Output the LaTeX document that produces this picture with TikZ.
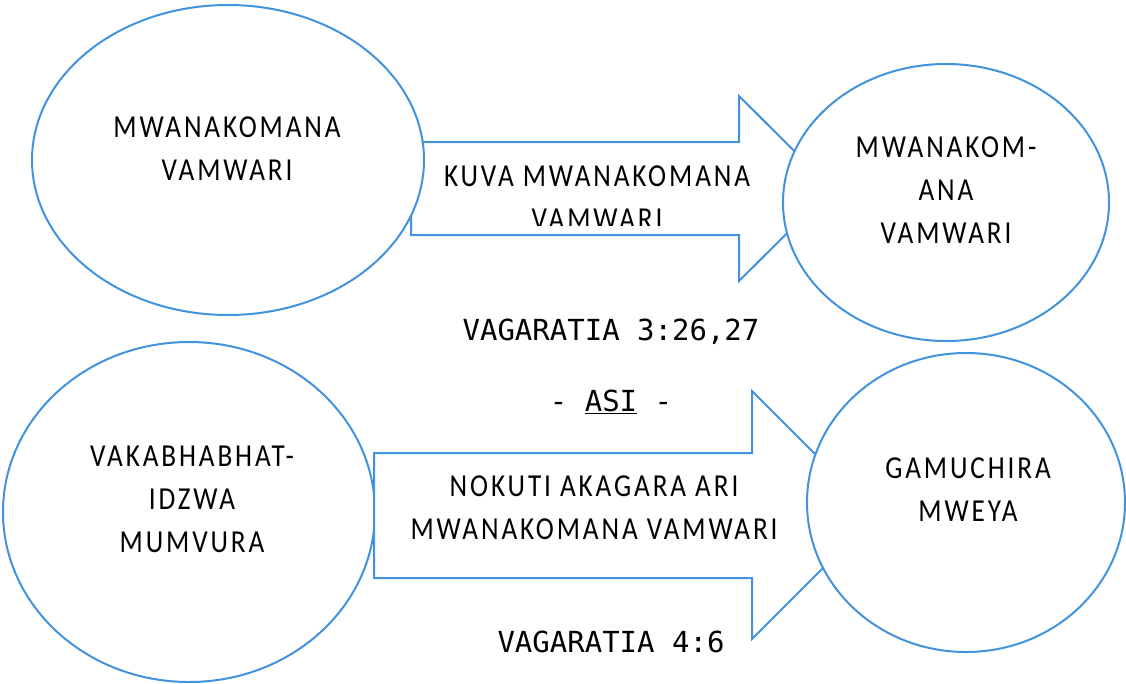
\documentclass[tikz,border=0pt]{standalone}
\usepackage{fontspec}
\setmainfont{Carlito}[FakeStretch=0.85,LetterSpace=9]
\setmonofont{DejaVu Sans Mono}
\usetikzlibrary{shapes.geometric}
\definecolor{lineblue}{RGB}{66,146,222}

\begin{document}
\begin{tikzpicture}[x=1pt,y=-1pt,
  outline/.style={draw=lineblue,line width=2pt,fill=white,line join=miter},
  bubble/.style={outline,ellipse,inner sep=0pt},
  caption/.style={font=\fontsize{32}{43}\selectfont,align=center,text=black,inner sep=0pt},
  ref/.style={font=\ttfamily\fontsize{29}{35}\selectfont,text=black,inner sep=0pt}]
\useasboundingbox (0,0) rectangle (1126,683);

% upper block arrow and its caption, cut off at the bottom
\draw[outline] (411,142) -- (739,142) -- (739,96) -- (832,188.5) -- (739,281)
  -- (739,235) -- (411,235) -- cycle;
\begin{scope}
  \clip (411,142) rectangle (832,225);
  \node[caption] (kuva) at (597,197.5) {KUVA MWANAKOMANA\\VAMWARI};
\end{scope}

% upper bubbles
\node[bubble,minimum width=392pt,minimum height=310pt] (e1) at (228,160) {};
\node[caption] (t1) at (227,148.5) {MWANAKOMANA\\VAMWARI};
\node[bubble,minimum width=326pt,minimum height=277pt] (e2) at (946,202.5) {};
\node[caption] (t2) at (946,190) {MWANAKOM-\\ANA\\VAMWARI};

% references between the rows
\node[ref] (r1) at (611,332) {VAGARATIA 3:26,27};
\node[ref] (asi) at (611,402) {- \underline{ASI} -};

% lower row
\node[bubble,minimum width=372pt,minimum height=340pt] (e3) at (189,512) {};
\node[caption] (t3) at (192,499.5) {VAKABHABHAT-\\IDZWA\\MUMVURA};
\draw[outline] (374,453) -- (752,453) -- (752,391) -- (876,515) -- (752,639)
  -- (752,578) -- (374,578) -- cycle;
\node[caption] (nokuti) at (594,508) {NOKUTI AKAGARA ARI\\MWANAKOMANA VAMWARI};
\node[bubble,minimum width=318pt,minimum height=299pt] (e4) at (966,502.5) {};
\node[caption] (t4) at (968,490) {GAMUCHIRA\\MWEYA};
\node[ref] (r2) at (611,642) {VAGARATIA 4:6};
\end{tikzpicture}
\end{document}
